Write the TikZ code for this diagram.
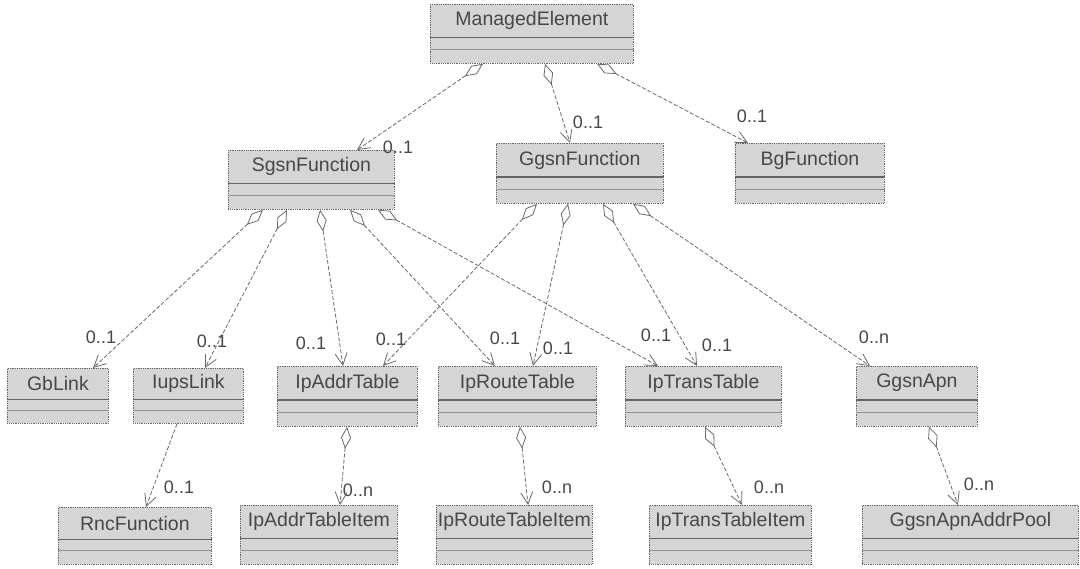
\documentclass[tikz,border=0pt]{standalone}
\usepackage{fontspec}
\setmainfont{Liberation Sans}
\usetikzlibrary{arrows.meta,calc}

\definecolor{boxfill}{HTML}{D5D5D5}
\definecolor{boxline}{HTML}{646464}
\definecolor{ink}{HTML}{474747}
\definecolor{wire}{HTML}{6A6A6A}

\tikzset{
  classbox/.style={draw=boxline, densely dotted, fill=boxfill, line width=0.8pt,
    inner sep=0pt, anchor=north west},
  classname/.style={text=ink, font=\fontsize{19.5}{21}\selectfont, inner sep=0pt},
  compart/.style={draw=boxline, solid, line width=1.1pt},
  compartlight/.style={draw=boxline!70!white, solid, line width=0.9pt},
  mult/.style={text=ink, font=\fontsize{18}{19}\selectfont, inner sep=0pt},
  wirebase/.style={draw=wire, line width=0.8pt, dash pattern=on 4pt off 2pt},
  aggr/.style={wirebase,
    {Diamond[open,length=22pt,width=10pt]}-{Straight Barb[length=12pt,width=12pt]}},
  assoc/.style={wirebase, -{Straight Barb[length=12pt,width=12pt]}},
}

% class with name, left, top, width, height and title
\newcommand\umlclass[6]{%
  \node[classbox, minimum width=#4pt, minimum height=#5pt] (#1) at (#2,#3) {};
  \draw[compart] ($(#1.north west)!0.56!(#1.south west)$) -- ($(#1.north east)!0.56!(#1.south east)$);
  \draw[compartlight] ($(#1.north west)!0.76!(#1.south west)$) -- ($(#1.north east)!0.76!(#1.south east)$);
  \node[classname] (#1-name) at ($(#1.north)!0.28!(#1.south)$) {#6};
}

% aggregation from the bottom edge of one class to the top edge of another
\newcommand\aggrlink[4]{%
  \draw[aggr] ([xshift=#2pt]#1.south west) -- ([xshift=#4pt]#3.north west);
}

\begin{document}
\begin{tikzpicture}[x=1pt,y=-1pt]
  \fill[white] (0,0) rectangle (1080,569);
  \path[use as bounding box] (0,0) rectangle (1080,569);

  % classes
  \umlclass{me}{430}{4}{203}{59}{ManagedElement}
  \umlclass{sgsn}{228}{150}{166}{59}{SgsnFunction}
  \umlclass{ggsn}{496}{143}{167}{60}{GgsnFunction}
  \umlclass{bg}{735}{143}{149}{60}{BgFunction}
  \umlclass{gb}{7}{368}{101}{55}{GbLink}
  \umlclass{iups}{133}{368}{110}{55}{IupsLink}
  \umlclass{ipaddr}{277}{366}{140}{60}{IpAddrTable}
  \umlclass{iproute}{438}{366}{158}{60}{IpRouteTable}
  \umlclass{iptrans}{625}{366}{156}{60}{IpTransTable}
  \umlclass{apn}{856}{366}{121}{60}{GgsnApn}
  \umlclass{rnc}{58}{507}{153}{57}{RncFunction}
  \umlclass{addritem}{240}{505}{157}{59}{IpAddrTableItem}
  \umlclass{routeitem}{436}{505}{156}{59}{IpRouteTableItem}
  \umlclass{transitem}{649}{505}{162}{59}{IpTransTableItem}
  \umlclass{pool}{862}{505}{216}{59}{GgsnApnAddrPool}

  % aggregations
  \aggrlink{me}{53}{sgsn}{129}
  \aggrlink{me}{115}{ggsn}{74}
  \aggrlink{me}{167}{bg}{13}
  \aggrlink{sgsn}{35}{gb}{86}
  \aggrlink{sgsn}{59}{iups}{72}
  \aggrlink{sgsn}{92}{ipaddr}{66}
  \aggrlink{sgsn}{122}{iproute}{57}
  \aggrlink{sgsn}{150}{iptrans}{33}
  \aggrlink{ggsn}{41}{ipaddr}{106}
  \aggrlink{ggsn}{72}{iproute}{95}
  \aggrlink{ggsn}{107}{iptrans}{72}
  \aggrlink{ggsn}{137}{apn}{14}
  \draw[assoc] ([xshift=44pt]iups.south west) -- ([xshift=88pt]rnc.north west);
  \aggrlink{ipaddr}{70}{addritem}{100}
  \aggrlink{iproute}{82}{routeitem}{92}
  \aggrlink{iptrans}{80}{transitem}{93}
  \aggrlink{apn}{73}{pool}{96}

  % multiplicities
  \node[mult] (m-sgsn) at (398,147) {0..1};
  \node[mult] (m-ggsn) at (588,122) {0..1};
  \node[mult] (m-bg) at (752,116) {0..1};
  \node[mult] (m-gb) at (101,337) {0..1};
  \node[mult] (m-iups) at (212,341) {0..1};
  \node[mult] (m-addr1) at (311,343) {0..1};
  \node[mult] (m-addr2) at (391,339) {0..1};
  \node[mult] (m-route1) at (505,338) {0..1};
  \node[mult] (m-route2) at (558,348) {0..1};
  \node[mult] (m-trans1) at (656,335) {0..1};
  \node[mult] (m-trans2) at (717,345) {0..1};
  \node[mult] (m-apn) at (874,337) {0..n};
  \node[mult] (m-rnc) at (179,487) {0..1};
  \node[mult] (m-addritem) at (358,490) {0..n};
  \node[mult] (m-routeitem) at (557,487) {0..n};
  \node[mult] (m-transitem) at (769,487) {0..n};
  \node[mult] (m-pool) at (979,484) {0..n};
\end{tikzpicture}
\end{document}
